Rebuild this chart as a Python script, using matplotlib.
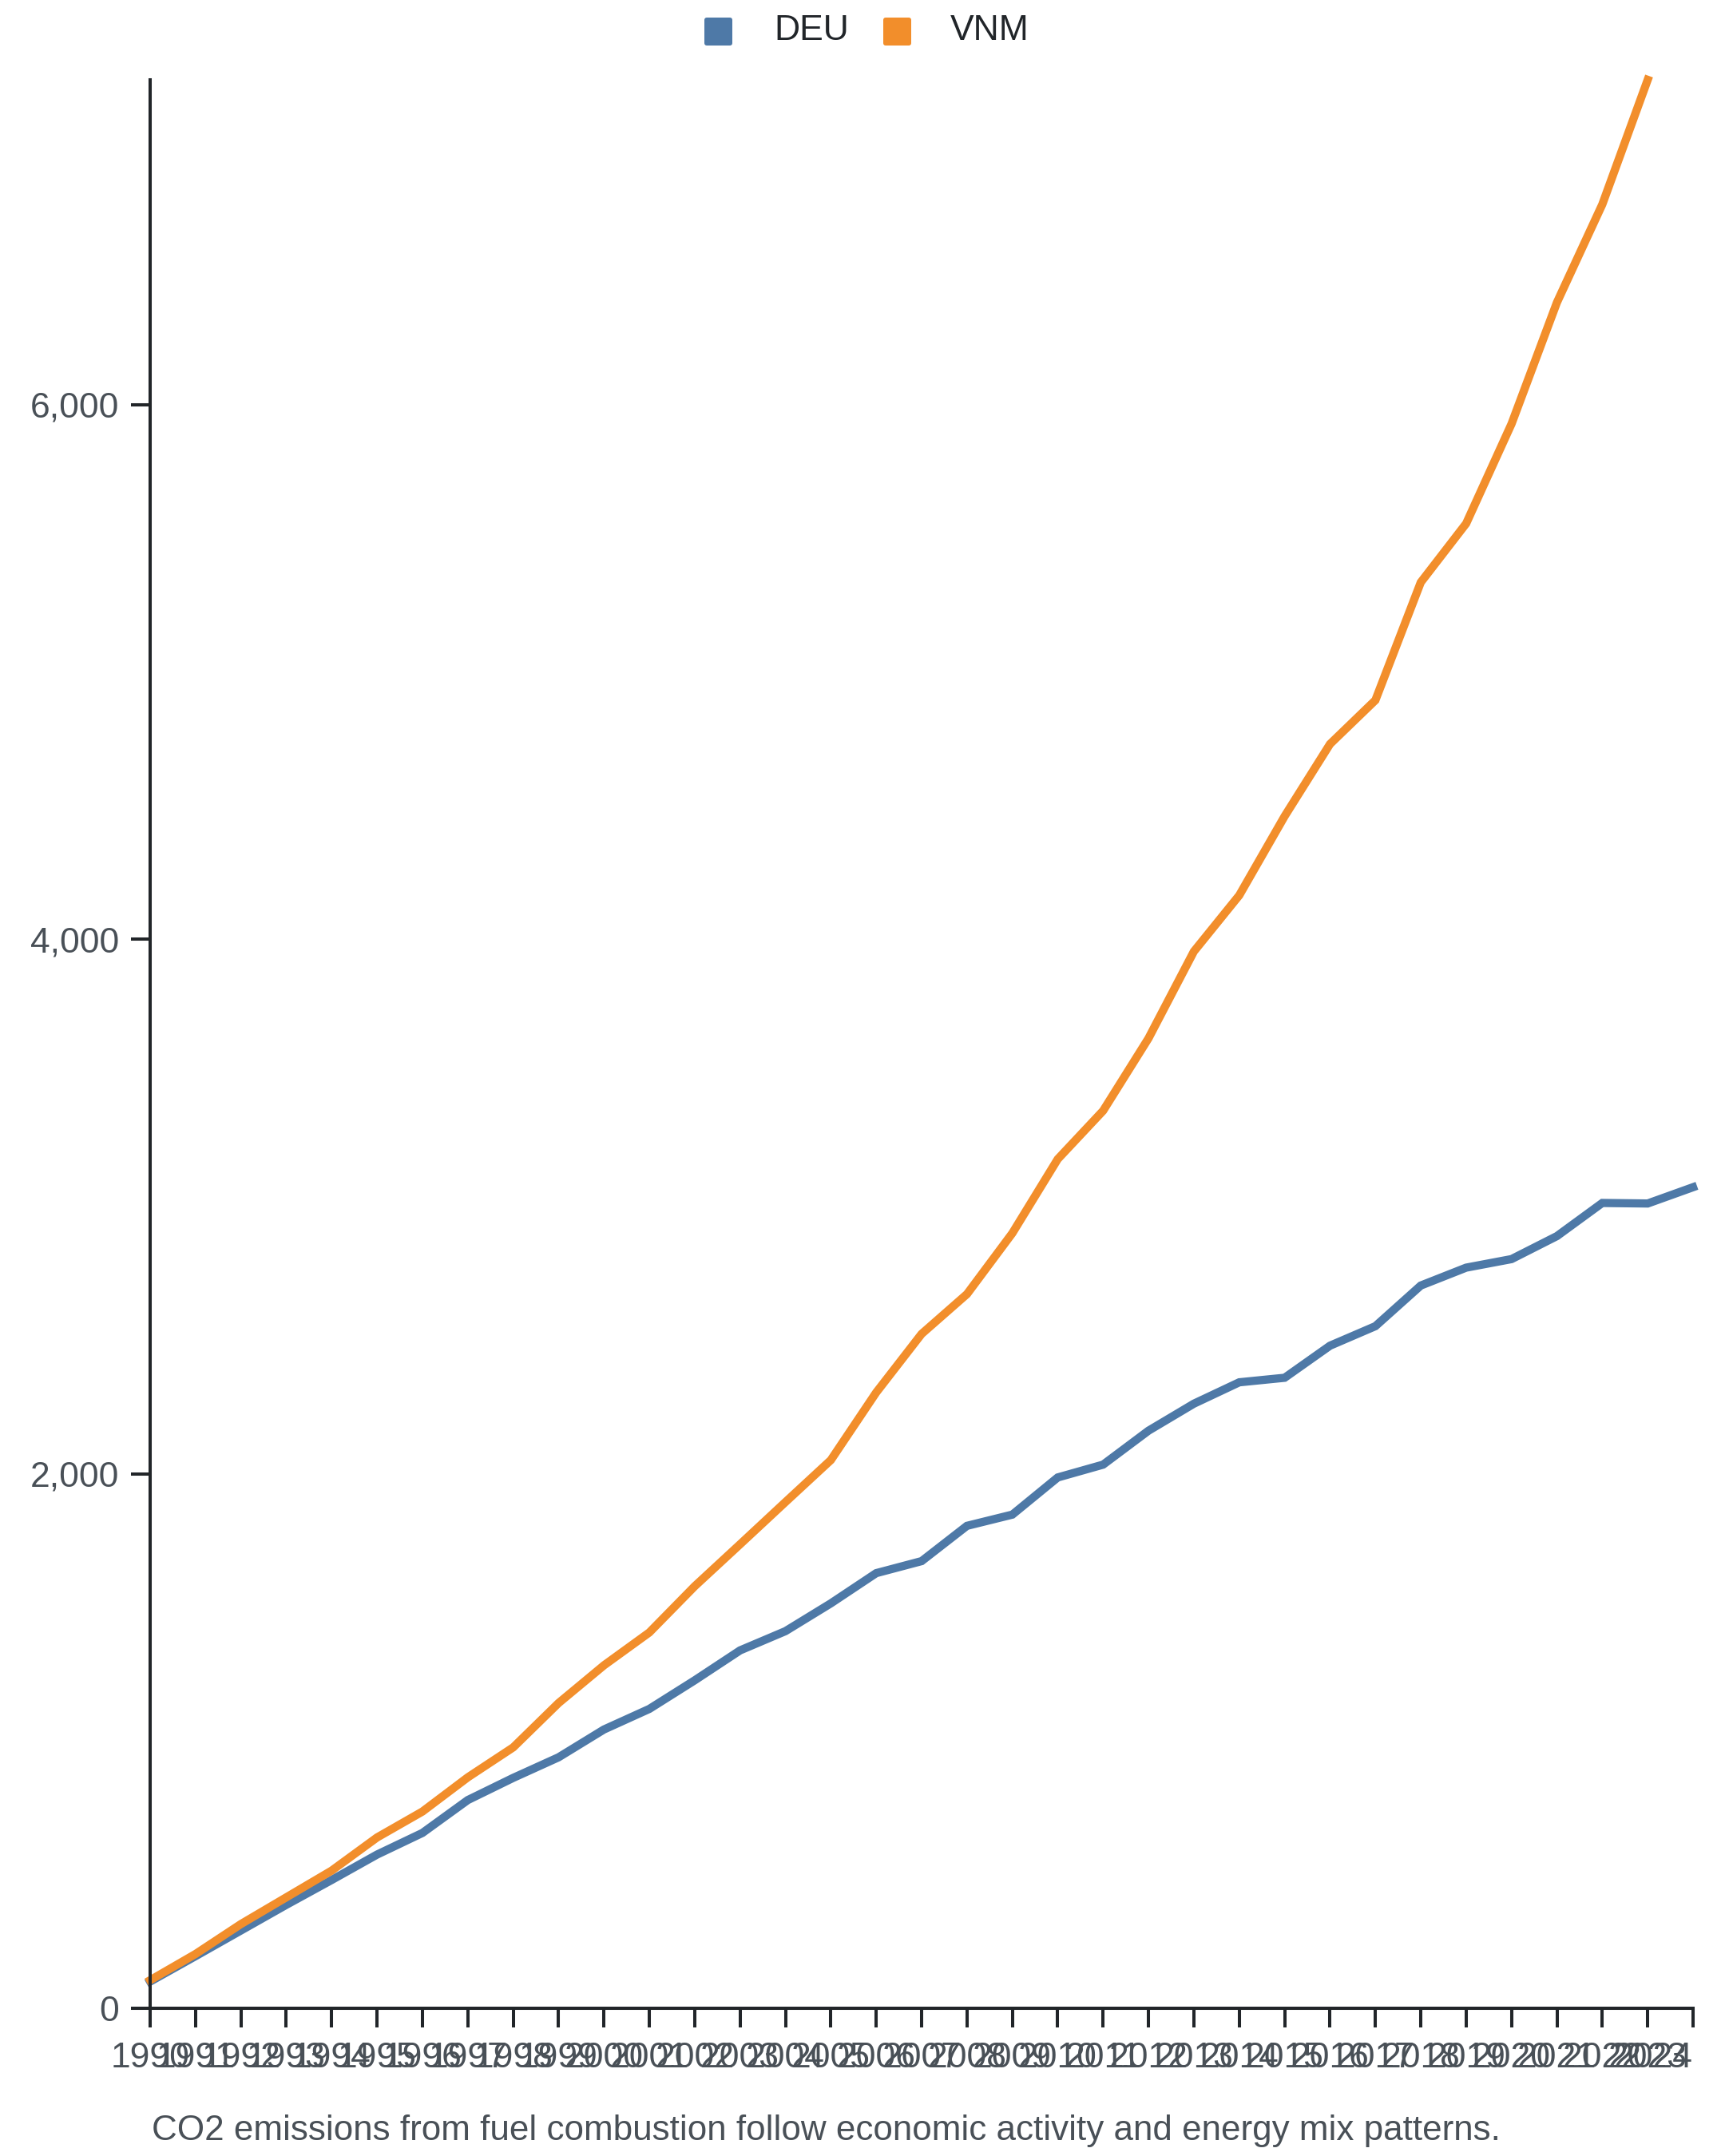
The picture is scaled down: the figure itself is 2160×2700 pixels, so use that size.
import matplotlib
matplotlib.use("Agg")
import matplotlib.pyplot as plt
from matplotlib.patches import FancyBboxPatch
from matplotlib.ticker import FuncFormatter

plt.rcParams['font.family'] = ['Liberation Sans', 'DejaVu Sans']

# data
years = list(range(1990, 2025))
deu = [100, 195, 291, 387, 480, 575, 656, 779, 862, 939,
       1043, 1120, 1227, 1339, 1411, 1515, 1628, 1673, 1805, 1847,
       1986, 2034, 2161, 2262, 2342, 2359, 2479, 2552, 2704, 2771,
       2803, 2889, 3013, 3011, 3072]
vnm_years = list(range(1990, 2024))
vnm = [105, 203, 315, 415, 515, 639, 736, 864, 976, 1142,
       1283, 1406, 1579, 1736, 1894, 2051, 2304, 2523, 2672, 2900,
       3177, 3358, 3629, 3954, 4164, 4460, 4730, 4894, 5335, 5555,
       5928, 6382, 6749, 7215]
y_ticks = [0, 2000, 4000, 6000]
series_names = ['DEU', 'VNM']
caption = "CO2 emissions from fuel combustion follow economic activity and energy mix patterns."

c_deu = "#4e79a7"
c_vnm = "#f28e2b"
axis_col = "#212529"
label_col = "#495057"

W, H = 2160, 2700
fig = plt.figure(figsize=(W / 100, H / 100), dpi=100)
ax = fig.add_axes([188 / W, 1 - 2515 / H, (2120 - 188) / W, (2515 - 100) / H])

ax.plot(years, deu, color=c_deu, lw=7.4, solid_joinstyle='miter', clip_on=False)
ax.plot(vnm_years, vnm, color=c_vnm, lw=7.4, solid_joinstyle='miter', clip_on=False)

ax.set_xlim(years[0], years[-1])
ax.set_ylim(0, max(vnm))

for s in ['top', 'right']:
    ax.spines[s].set_visible(False)
for s in ['left', 'bottom']:
    ax.spines[s].set_color(axis_col)
    ax.spines[s].set_linewidth(2.9)

ax.set_xticks(years)
ax.set_xticklabels([str(y) for y in years])
ax.set_yticks(y_ticks)
ax.yaxis.set_major_formatter(FuncFormatter(lambda v, p: f"{int(v):,}"))
ax.tick_params(axis='both', length=17, width=2.9, color=axis_col,
               labelsize=32, labelcolor=label_col)
ax.tick_params(axis='x', pad=13)
ax.tick_params(axis='y', pad=11)
ax.get_xticklabels()[-1].set_ha('right')

fig.text(190 / W, 1 - 2680 / H, caption, fontsize=31.7, color=label_col,
         ha='left', va='baseline')

# legend: rounded squares + labels at the top centre
legend_items = [(882, 969, c_deu), (1106, 1190, c_vnm)]
for name, (sx, tx, col) in zip(series_names, legend_items):
    box = FancyBboxPatch((sx / W, 1 - 57 / H), 35 / W, 35 / H,
                         boxstyle="round,pad=0,rounding_size=0.0015",
                         transform=fig.transFigure, facecolor=col, edgecolor='none',
                         mutation_aspect=W / H)
    fig.add_artist(box)
    fig.text(tx / W, 1 - 39 / H, name, fontsize=32, color=axis_col,
             ha='left', va='center')

fig.savefig("out.png", dpi=100)
